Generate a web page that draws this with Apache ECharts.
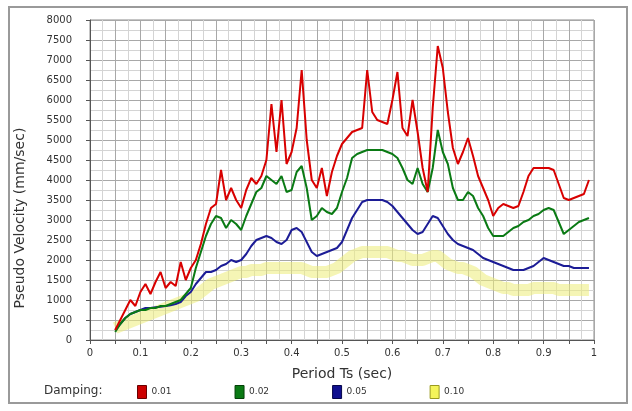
<!DOCTYPE html>
<html>
<head>
<meta charset="utf-8">
<script src="https://cdn.jsdelivr.net/npm/echarts@6/dist/echarts.min.js"></script>
<style>
  html, body { margin: 0; padding: 0; background: #ffffff; }
  #chart { width: 632px; height: 411px; }
</style>
</head>
<body>
<div id="chart"></div>
<script>
// Pseudo velocity response spectra for four damping ratios
const periods = [
  0.05, 0.06, 0.07, 0.08, 0.09, 0.10, 0.11, 0.12, 0.13, 0.14,
  0.15, 0.16, 0.17, 0.18, 0.19, 0.20, 0.21, 0.22, 0.23, 0.24,
  0.25, 0.26, 0.27, 0.28, 0.29, 0.30, 0.31, 0.32, 0.33, 0.34,
  0.35, 0.36, 0.37, 0.38, 0.39, 0.40, 0.41, 0.42, 0.43, 0.44,
  0.45, 0.46, 0.47, 0.48, 0.49, 0.50, 0.51, 0.52, 0.53, 0.54,
  0.55, 0.56, 0.57, 0.58, 0.59, 0.60, 0.61, 0.62, 0.63, 0.64,
  0.65, 0.66, 0.67, 0.68, 0.69, 0.70, 0.71, 0.72, 0.73, 0.74,
  0.75, 0.76, 0.77, 0.78, 0.79, 0.80, 0.81, 0.82, 0.83, 0.84,
  0.85, 0.86, 0.87, 0.88, 0.89, 0.90, 0.91, 0.92, 0.93, 0.94,
  0.95, 0.96, 0.97, 0.98, 0.99
];

const dampingLabels = ['0.01', '0.02', '0.05', '0.10'];

const pvDamp1 = [
  250, 500, 750, 1000, 850, 1200, 1400, 1150, 1450, 1700,
  1300, 1450, 1350, 1950, 1500, 1800, 2000, 2400, 2900, 3300,
  3400, 4250, 3500, 3800, 3500, 3300, 3750, 4050, 3900, 4100,
  4500, 5900, 4700, 6000, 4400, 4700, 5300, 6750, 5000, 4000,
  3800, 4300, 3600, 4200, 4600, 4900, 5050, 5200, 5250, 5300,
  6750, 5700, 5500, 5450, 5400, 6000, 6700, 5300, 5100, 6000,
  5200, 4300, 3700, 5800, 7350, 6800, 5700, 4800, 4400, 4700,
  5050, 4600, 4100, 3800, 3500, 3100, 3300, 3400, 3350, 3300,
  3350, 3700, 4100, 4300, 4300, 4300, 4300, 4250, 3900, 3550,
  3500, 3550, 3600, 3650, 4000
];

const pvDamp2 = [
  200, 400, 550, 650, 700, 750, 750, 800, 800, 850,
  850, 900, 950, 1000, 1150, 1300, 1800, 2200, 2600, 2900,
  3100, 3050, 2800, 3000, 2900, 2750, 3100, 3400, 3700, 3800,
  4100, 4000, 3900, 4100, 3700, 3750, 4200, 4350, 3800, 3000,
  3100, 3300, 3200, 3150, 3300, 3700, 4050, 4550, 4650, 4700,
  4750, 4750, 4750, 4750, 4700, 4650, 4550, 4300, 4000, 3900,
  4300, 3900, 3700, 4300, 5250, 4700, 4400, 3800, 3500, 3500,
  3700, 3600, 3300, 3100, 2800, 2600, 2600, 2600, 2700, 2800,
  2850, 2950, 3000, 3100, 3150, 3250, 3300, 3250, 2950, 2650,
  2750, 2850, 2950, 3000, 3050
];

const pvDamp3 = [
  250, 400, 550, 650, 700, 750, 800, 800, 820, 830,
  850, 870, 900, 950, 1100, 1200, 1400, 1550, 1700, 1700,
  1750, 1850, 1900, 2000, 1950, 2000, 2150, 2350, 2500, 2550,
  2600, 2550, 2450, 2400, 2500, 2750, 2800, 2700, 2450, 2200,
  2100, 2150, 2200, 2250, 2300, 2450, 2750, 3050, 3250, 3450,
  3500, 3500, 3500, 3500, 3450, 3350, 3200, 3050, 2900, 2750,
  2650, 2700, 2900, 3100, 3050, 2850, 2650, 2500, 2400, 2350,
  2300, 2250, 2150, 2050, 2000, 1950, 1900, 1850, 1800, 1750,
  1750, 1750, 1800, 1850, 1950, 2050, 2000, 1950, 1900, 1850,
  1850, 1800, 1800, 1800, 1800
];

const pvDamp4 = [
  300, 350, 400, 450, 500, 550, 600, 650, 700, 750,
  800, 850, 900, 950, 1000, 1050, 1100, 1200, 1300, 1400,
  1450, 1500, 1550, 1600, 1650, 1700, 1700, 1750, 1750, 1750,
  1800, 1800, 1800, 1800, 1800, 1800, 1800, 1800, 1750, 1700,
  1700, 1700, 1700, 1750, 1800, 1900, 2000, 2100, 2150, 2200,
  2200, 2200, 2200, 2200, 2200, 2150, 2100, 2100, 2050, 2000,
  2000, 2000, 2050, 2100, 2100, 2000, 1900, 1850, 1800, 1800,
  1750, 1700, 1600, 1500, 1450, 1400, 1350, 1300, 1300, 1250,
  1250, 1250, 1250, 1300, 1300, 1300, 1300, 1300, 1250, 1250,
  1250, 1250, 1250, 1250, 1250
];

const seriesValues = [pvDamp1, pvDamp2, pvDamp3, pvDamp4];
const lineColors = ['#d80000', '#0a7a14', '#1c1c96', 'rgba(236,236,120,0.55)'];
const boxColors = ['#cc0000', '#0a7a14', '#101090', '#f4f45a'];
const boxBorders = ['#6a0000', '#034008', '#05054a', '#9a9a20'];
const lineWidths = [2, 2, 2, 12];

const FONT = 'DejaVu Sans, Verdana, sans-serif';

const chart = echarts.init(document.getElementById('chart'), null, { renderer: 'canvas' });

const series = seriesValues.map((vals, i) => ({
  name: dampingLabels[i],
  type: 'line',
  data: periods.map((p, k) => [p, vals[k]]),
  showSymbol: false,
  smooth: false,
  z: 10 - i,
  lineStyle: { color: lineColors[i], width: lineWidths[i] },
  itemStyle: { color: boxColors[i], borderColor: boxBorders[i], borderWidth: 1 },
  emphasis: { disabled: true },
  animation: false
}));
// the widest, palest band is drawn underneath the others
series[3].z = 2;

chart.setOption({
  animation: false,
  backgroundColor: '#ffffff',
  textStyle: { fontFamily: FONT },
  grid: {
    left: 90, right: 38, top: 20, bottom: 71,
    show: true, borderColor: '#8a8a8a', borderWidth: 1, backgroundColor: '#ffffff'
  },
  xAxis: {
    type: 'value', min: 0, max: 1, interval: 0.05,
    name: 'Period Ts (sec)', nameLocation: 'middle', nameGap: 27,
    nameTextStyle: { fontSize: 14, color: '#333', fontFamily: FONT },
    axisLine: { lineStyle: { color: '#555', width: 1 } },
    axisTick: { show: true, length: 4, lineStyle: { color: '#555' } },
    axisLabel: {
      fontSize: 10, color: '#333', margin: 8,
      formatter: v => {
        const t = Math.round(v * 100);
        return t % 10 === 0 ? String(t / 100) : '';
      }
    },
    splitLine: { show: true, lineStyle: { color: '#a8a8a8', width: 1 } },
    minorTick: { show: false, splitNumber: 2 },
    minorSplitLine: { show: true, lineStyle: { color: '#d4d4d4', width: 1 } }
  },
  yAxis: {
    type: 'value', min: 0, max: 8000, interval: 500,
    axisLine: { show: true, lineStyle: { color: '#555', width: 1 } },
    axisTick: { show: true, length: 4, lineStyle: { color: '#555' } },
    axisLabel: { fontSize: 10, color: '#333', margin: 18, formatter: v => String(v) },
    splitLine: { show: true, lineStyle: { color: '#a8a8a8', width: 1 } },
    minorTick: { show: false, splitNumber: 2 },
    minorSplitLine: { show: true, lineStyle: { color: '#d4d4d4', width: 1 } }
  },
  legend: {
    left: 132, top: 380,
    icon: 'rect', itemWidth: 9, itemHeight: 13, itemGap: 63,
    selectedMode: false,
    textStyle: { fontSize: 9, color: '#333' },
    data: dampingLabels.map((n, i) => ({
      name: n,
      itemStyle: { color: boxColors[i], borderColor: boxBorders[i], borderWidth: 1 }
    }))
  },
  graphic: [
    {
      type: 'rect', silent: true, z: -1,
      shape: { x: 9, y: 7, width: 618, height: 396 },
      style: { fill: 'none', stroke: '#9a9a9a', lineWidth: 2 }
    },
    {
      type: 'text', x: 20, y: 218, rotation: Math.PI / 2,
      style: {
        text: 'Pseudo Velocity (mm/sec)', fontSize: 14, fill: '#333', fontFamily: FONT,
        align: 'center', verticalAlign: 'middle'
      }
    },
    {
      type: 'text', left: 44, top: 385,
      style: { text: 'Damping:', fontSize: 12, fill: '#333', fontFamily: FONT }
    }
  ],
  series: series
});
</script>
</body>
</html>
